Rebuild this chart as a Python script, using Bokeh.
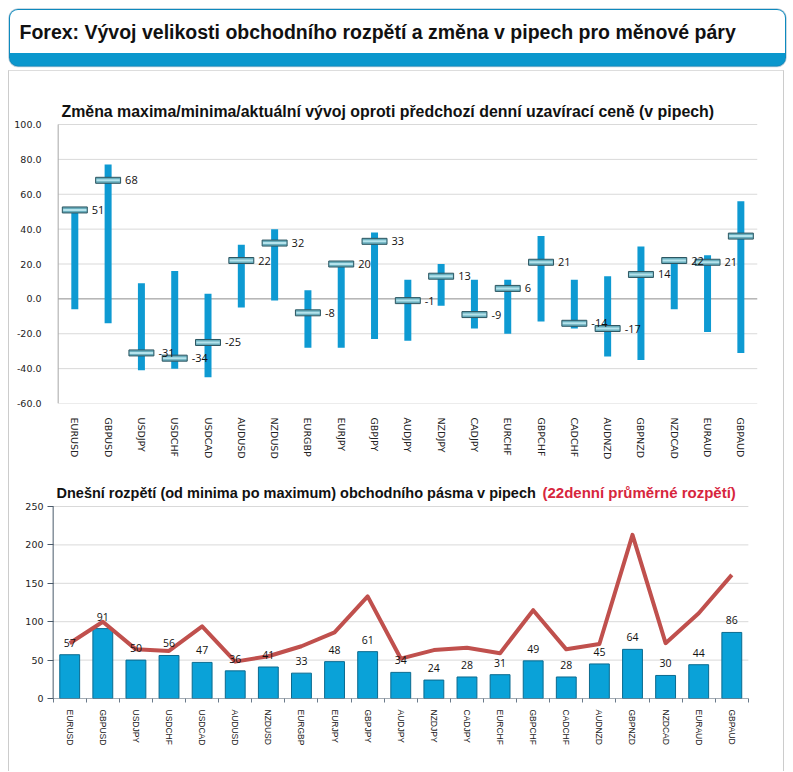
from bokeh.plotting import figure
from bokeh.models import Range1d, FixedTicker, NumeralTickFormatter, Label, BoxAnnotation, Spacer
from bokeh.layouts import column, row
from bokeh.embed import file_html
from bokeh.resources import INLINE
from bokeh.core.properties import value

# ---------------- data ----------------
pairs = ["EURUSD", "GBPUSD", "USDJPY", "USDCHF", "USDCAD", "AUDUSD", "NZDUSD",
         "EURGBP", "EURJPY", "GBPJPY", "AUDJPY", "NZDJPY", "CADJPY", "EURCHF",
         "GBPCHF", "CADCHF", "AUDNZD", "GBPNZD", "NZDCAD", "EURAUD", "GBPAUD"]
current = [51, 68, -31, -34, -25, 22, 32, -8, 20, 33, -1, 13, -9, 6, 21, -14, -17, 14, 22, 21, 36]
high = [51, 77, 9, 16, 3, 31, 40, 5, 20, 38, 11, 20, 11, 11, 36, 11, 13, 30, 23, 25, 56]
low = [-6, -14, -41, -40, -45, -5, -1, -28, -28, -23, -24, -4, -17, -20, -13, -17, -33, -35, -6, -19, -31]
spread_today = [57, 91, 50, 56, 47, 36, 41, 33, 48, 61, 34, 24, 28, 31, 49, 28, 45, 64, 30, 44, 86]
spread_avg22 = [72, 100, 64, 62, 94, 48, 55, 68, 86, 133, 52, 63, 66, 59, 115, 64, 71, 213, 72, 111, 161]
y1_ticks = [-60, -40, -20, 0, 20, 40, 60, 80, 100]
y2_ticks = [0, 50, 100, 150, 200, 250]

header_text = "Forex: Vývoj velikosti obchodního rozpětí a změna v pipech pro měnové páry"
title1 = "Změna maxima/minima/aktuální vývoj oproti předchozí denní uzavírací ceně (v pipech)"
title2a = "Dnešní rozpětí (od minima po maximum) obchodního pásma v pipech"
title2b = "(22denní průměrné rozpětí)"

idx = list(range(len(pairs)))
labels_map = {i: n for i, n in enumerate(pairs)}
n = len(pairs)

# ---------------- header ----------------
hdr = figure(width=793, height=70, x_range=Range1d(0, 793), y_range=Range1d(0, 70),
             toolbar_location=None, output_backend="svg", min_border=0,
             x_axis_type=None, y_axis_type=None, title=None, outline_line_color=None)
hdr.grid.visible = False
hdr.add_layout(BoxAnnotation(left=8.5, right=785.5, bottom=4, top=61.5,
                             fill_color="#0a97cd", fill_alpha=1,
                             line_color="#1d5f8c", line_width=1.5, border_radius=9))
hdr.add_layout(BoxAnnotation(left=9.5, right=784.5, bottom=17.5, top=60.5,
                             fill_color="white", fill_alpha=1, line_color=None,
                             border_radius=dict(top_left=8, top_right=8, bottom_right=0, bottom_left=0)))
hdr.add_layout(Label(x=19, y=38.5, text=header_text, text_font="Liberation Sans",
                     text_font_size="19.5px", text_font_style="bold", text_color="#111111",
                     text_baseline="middle"))

# ---------------- top chart ----------------
p1 = figure(width=774, height=400, x_range=Range1d(-0.70, 20.5), y_range=Range1d(-60, 116.06),
            toolbar_location=None, output_backend="svg", title=None,
            min_border_left=42, min_border_right=26, min_border_top=25, min_border_bottom=68,
            outline_line_color=None)
p1.grid.visible = False
p1.yaxis.ticker = FixedTicker(ticks=y1_ticks)
p1.yaxis.formatter = NumeralTickFormatter(format="0.0")
p1.yaxis.major_tick_line_color = None
p1.yaxis.minor_tick_line_color = None
p1.yaxis.axis_line_color = None
p1.yaxis.major_label_standoff = 4
p1.yaxis.major_label_text_font = "DejaVu Sans"
p1.yaxis.major_label_text_font_size = "9.5px"
p1.yaxis.major_label_text_color = "#222222"
p1.xaxis.ticker = FixedTicker(ticks=idx)
p1.xaxis.major_label_overrides = labels_map
p1.xaxis.major_label_orientation = "vertical"
p1.xaxis.major_tick_line_color = None
p1.xaxis.minor_tick_line_color = None
p1.xaxis.axis_line_color = None
p1.xaxis.major_label_standoff = 8
p1.xaxis.major_label_text_font = "DejaVu Sans"
p1.xaxis.major_label_text_font_size = "9.5px"
p1.xaxis.major_label_text_color = "#222222"
# grid lines (only over the category span) and axis line
g1_col = ["#8c8c8c" if t == 0 else "#d9d9d9" for t in y1_ticks]
p1.segment(x0=[-0.5] * len(y1_ticks), y0=y1_ticks, x1=[n - 0.5] * len(y1_ticks), y1=y1_ticks,
           line_color=g1_col, line_width=1)
p1.segment(x0=[-0.5], y0=[y1_ticks[0]], x1=[-0.5], y1=[y1_ticks[-1]], line_color="#a6a6a6", line_width=1)

p1.vbar(x=idx, bottom=low, top=high, width=0.21, fill_color="#0e9ad2", line_color=None)
p1.rect(x=idx, y=current, width=0.75, height=6, height_units="screen",
        fill_color="#6aaebd", line_color="#2d5661", line_width=1)
p1.rect(x=idx, y=current, width=0.7, height=2, height_units="screen",
        fill_color="#b5e3ec", line_color=None)
p1.text(x=idx, y=current, text=[str(v) for v in current], x_offset=17,
        text_baseline="middle", text_align="left", text_font=value("Open Sans"),
        text_font_size="11px", text_color="#111111")
p1.add_layout(Label(x=-0.40, y=107.45, text=title1, text_font="Liberation Sans",
                    text_font_size="15.9px", text_font_style="bold", text_color="#111111",
                    text_baseline="middle"))

# ---------------- bottom chart ----------------
p2 = figure(width=774, height=300, x_range=Range1d(-0.55, 20.776), y_range=Range1d(0, 282.55),
            toolbar_location=None, output_backend="svg", title=None,
            min_border_left=42, min_border_right=26, min_border_top=10, min_border_bottom=73,
            outline_line_color=None)
p2.grid.visible = False
p2.yaxis.ticker = FixedTicker(ticks=y2_ticks)
p2.yaxis.major_tick_out = 4
p2.yaxis.major_tick_in = 2
p2.yaxis.major_tick_line_color = "#4a5a6a"
p2.yaxis.minor_tick_line_color = None
p2.yaxis.axis_line_color = None
p2.yaxis.major_label_standoff = 4
p2.yaxis.major_label_text_font = "DejaVu Sans"
p2.yaxis.major_label_text_font_size = "9.5px"
p2.yaxis.major_label_text_color = "#222222"
p2.xaxis.ticker = FixedTicker(ticks=idx, minor_ticks=[i - 0.5 for i in idx] + [n - 0.5])
p2.xaxis.major_label_overrides = labels_map
p2.xaxis.major_label_orientation = "vertical"
p2.xaxis.major_tick_line_color = None
p2.xaxis.minor_tick_out = 4
p2.xaxis.minor_tick_in = 0
p2.xaxis.minor_tick_line_color = "#6a7a8a"
p2.xaxis.axis_line_color = None
p2.xaxis.major_label_standoff = 5
p2.xaxis.major_label_text_font = "Liberation Sans"
p2.xaxis.major_label_text_font_size = "8.5px"
p2.xaxis.major_label_text_color = "#222222"
p2.segment(x0=[-0.5] * (len(y2_ticks) - 1), y0=y2_ticks[1:], x1=[n - 0.5] * (len(y2_ticks) - 1),
           y1=y2_ticks[1:], line_color="#d9d9d9", line_width=1)

p2.vbar(x=idx, top=spread_today, width=0.6, fill_color="#0aa2d8", line_color="#0a6a8f", line_width=1)
p2.segment(x0=[-0.5], y0=[0], x1=[n - 0.5], y1=[0], line_color="#4a5a6a", line_width=1)
p2.segment(x0=[-0.5], y0=[y2_ticks[0]], x1=[-0.5], y1=[y2_ticks[-1]], line_color="#4a5a6a", line_width=1)
p2.line(x=idx, y=spread_avg22, line_color="#c0504d", line_width=4, line_join="round")
p2.text(x=idx, y=spread_today, text=[str(v) for v in spread_today], y_offset=-12,
        text_baseline="middle", text_align="center", text_font=value("Open Sans"),
        text_font_size="10.5px", text_color="#111111")
p2.add_layout(Label(x=-0.399, y=268.2, text=title2a, text_font="Liberation Sans",
                    text_font_size="14.5px", text_font_style="bold", text_color="#111111",
                    text_baseline="middle"))
p2.add_layout(Label(x=14.28, y=268.2, text=title2b, text_font="Liberation Sans",
                    text_font_size="15px", text_font_style="bold", text_color="#d7263d",
                    text_baseline="middle"))

charts = column(p1, p2, styles={"border-left": "1px solid #cccccc",
                                "border-right": "1px solid #cccccc",
                                "border-top": "1px solid #dddddd"})
layout = column(hdr, row(Spacer(width=8, height=10), charts))

open("out.html", "w").write(file_html(layout, INLINE))
